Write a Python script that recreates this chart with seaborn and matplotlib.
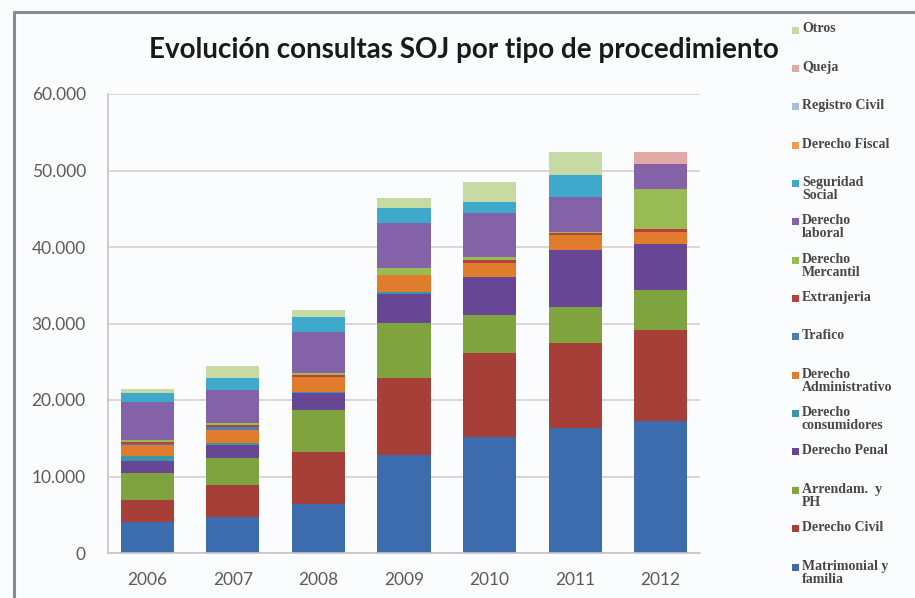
import pandas as pd
import numpy as np
import matplotlib
matplotlib.use("Agg")
import matplotlib.pyplot as plt
import seaborn as sns
from matplotlib.patches import Rectangle
from matplotlib.ticker import FuncFormatter

# data (consultas por año), order = bottom -> top of each stack
years = [2006, 2007, 2008, 2009, 2010, 2011, 2012]

matrimonial = [4100, 4750, 6400, 12800, 15200, 16300, 17200]
civil = [2830, 4140, 6760, 10030, 10900, 11100, 11900]
arrendam = [3490, 3490, 5530, 7190, 5000, 4800, 5230]
penal = [1600, 1700, 2180, 3900, 5000, 7400, 6100]
consumidores = [650, 300, 200, 200, 0, 0, 0]
administrativo = [1440, 1750, 2000, 2200, 1750, 2000, 1500]
trafico = [200, 300, 0, 0, 0, 0, 0]
extranjeria = [200, 300, 150, 0, 430, 200, 440]
mercantil = [250, 270, 290, 880, 430, 210, 5230]
laboral = [5000, 4360, 5440, 5880, 5670, 4580, 3270]
seg_social = [1090, 1530, 1960, 1960, 1520, 2830, 0]
fiscal = [0, 0, 0, 0, 0, 0, 0]
registro = [0, 0, 0, 0, 0, 0, 0]
queja = [0, 0, 0, 0, 0, 0, 1520]
otros = [570, 1510, 870, 1310, 2610, 3000, 0]

tipos = ["Matrimonial y familia", "Derecho Civil", "Arrendam. y PH", "Derecho Penal",
         "Derecho consumidores", "Derecho Administrativo", "Trafico", "Extranjeria",
         "Derecho Mercantil", "Derecho laboral", "Seguridad Social", "Derecho Fiscal",
         "Registro Civil", "Queja", "Otros"]
series = [matrimonial, civil, arrendam, penal, consumidores, administrativo, trafico,
          extranjeria, mercantil, laboral, seg_social, fiscal, registro, queja, otros]
legend_labels = ["Matrimonial y\nfamilia", "Derecho Civil", "Arrendam.  y\nPH", "Derecho Penal",
                 "Derecho\nconsumidores", "Derecho\nAdministrativo", "Trafico", "Extranjeria",
                 "Derecho\nMercantil", "Derecho\nlaboral", "Seguridad\nSocial", "Derecho Fiscal",
                 "Registro Civil", "Queja", "Otros"]
colores = ["#3d6cae", "#a63f37", "#7fa43f", "#674795", "#3a97a8", "#e07c2c", "#4a7dbb",
           "#b8413b", "#99bb55", "#8362a8", "#3fa9cb", "#f29a4c", "#a9bcdb", "#e2a9a7", "#c8daa3"]

rows = []
for t, vals in zip(tipos, series):
    for y, v in zip(years, vals):
        rows.append({"anio": y, "tipo": t, "consultas": v})
df = pd.DataFrame(rows)

sns.set_theme(style="white")
plt.rcParams['font.family'] = ['Lato', 'DejaVu Sans']

W, H = 915, 598
fig = plt.figure(figsize=(W / 100, H / 100), dpi=100, facecolor="#fbfcfd")
ax = fig.add_axes([108 / W, 1 - 553 / H, 592 / W, (553 - 94) / H])
ax.set_facecolor("#fbfcfd")

# seaborn stacks with the first hue level on top
sns.histplot(data=df, x="anio", weights="consultas", hue="tipo",
             hue_order=tipos[::-1], palette=colores[::-1], multiple="stack",
             discrete=True, shrink=0.62, linewidth=0, alpha=1, legend=False, ax=ax)

ax.set_xlim(2006 - 0.46, 2012 + 0.46)
ax.set_ylim(0, 60000)
ax.set_yticks(np.arange(0, 60001, 10000))
ax.yaxis.set_major_formatter(FuncFormatter(lambda v, p: f"{int(v):,}".replace(",", ".")))
ax.set_xticks(years)
ax.set_xlabel("")
ax.set_ylabel("")
ax.grid(axis="y", color="#d8cfcc", linewidth=1.2)
ax.set_axisbelow(True)
for s in ["top", "right"]:
    ax.spines[s].set_visible(False)
for s in ["left", "bottom"]:
    ax.spines[s].set_color("#c9c3c3")
    ax.spines[s].set_linewidth(1.2)
ax.tick_params(axis="y", length=4, color="#c9c3c3", labelsize=12.5, labelcolor="#5f5a5a", pad=12)
ax.tick_params(axis="x", length=0, labelsize=12.5, labelcolor="#5f5a5a", pad=14)

fig.text(464 / W, 1 - 50 / H, "Evolución consultas SOJ por tipo de procedimiento",
         ha="center", va="center", fontsize=20, fontweight="bold", color="#1a1a1a")

# legend on the right, drawn entry by entry (Otros at the top)
for i, (lab, col) in enumerate(zip(legend_labels[::-1], colores[::-1])):
    yc = 30 + i * 38.36
    fig.patches.append(Rectangle((792 / W, 1 - (yc + 3.5) / H), 6.5 / W, 7 / H,
                                 transform=fig.transFigure, facecolor=col, edgecolor="none"))
    fig.text(802 / W, 1 - (yc - 7.5) / H, lab, ha="left", va="top", fontsize=10,
             fontweight="bold", family=["Liberation Serif", "DejaVu Serif"],
             color="#4a4646", linespacing=1.0)

# chart frame
fig.patches.append(Rectangle((14 / W, -0.1), 1.2, (H - 12) / H + 0.1, transform=fig.transFigure,
                             fill=False, edgecolor="#8c8c8c", linewidth=2.2))

fig.savefig("out.png", dpi=100, facecolor=fig.get_facecolor())
